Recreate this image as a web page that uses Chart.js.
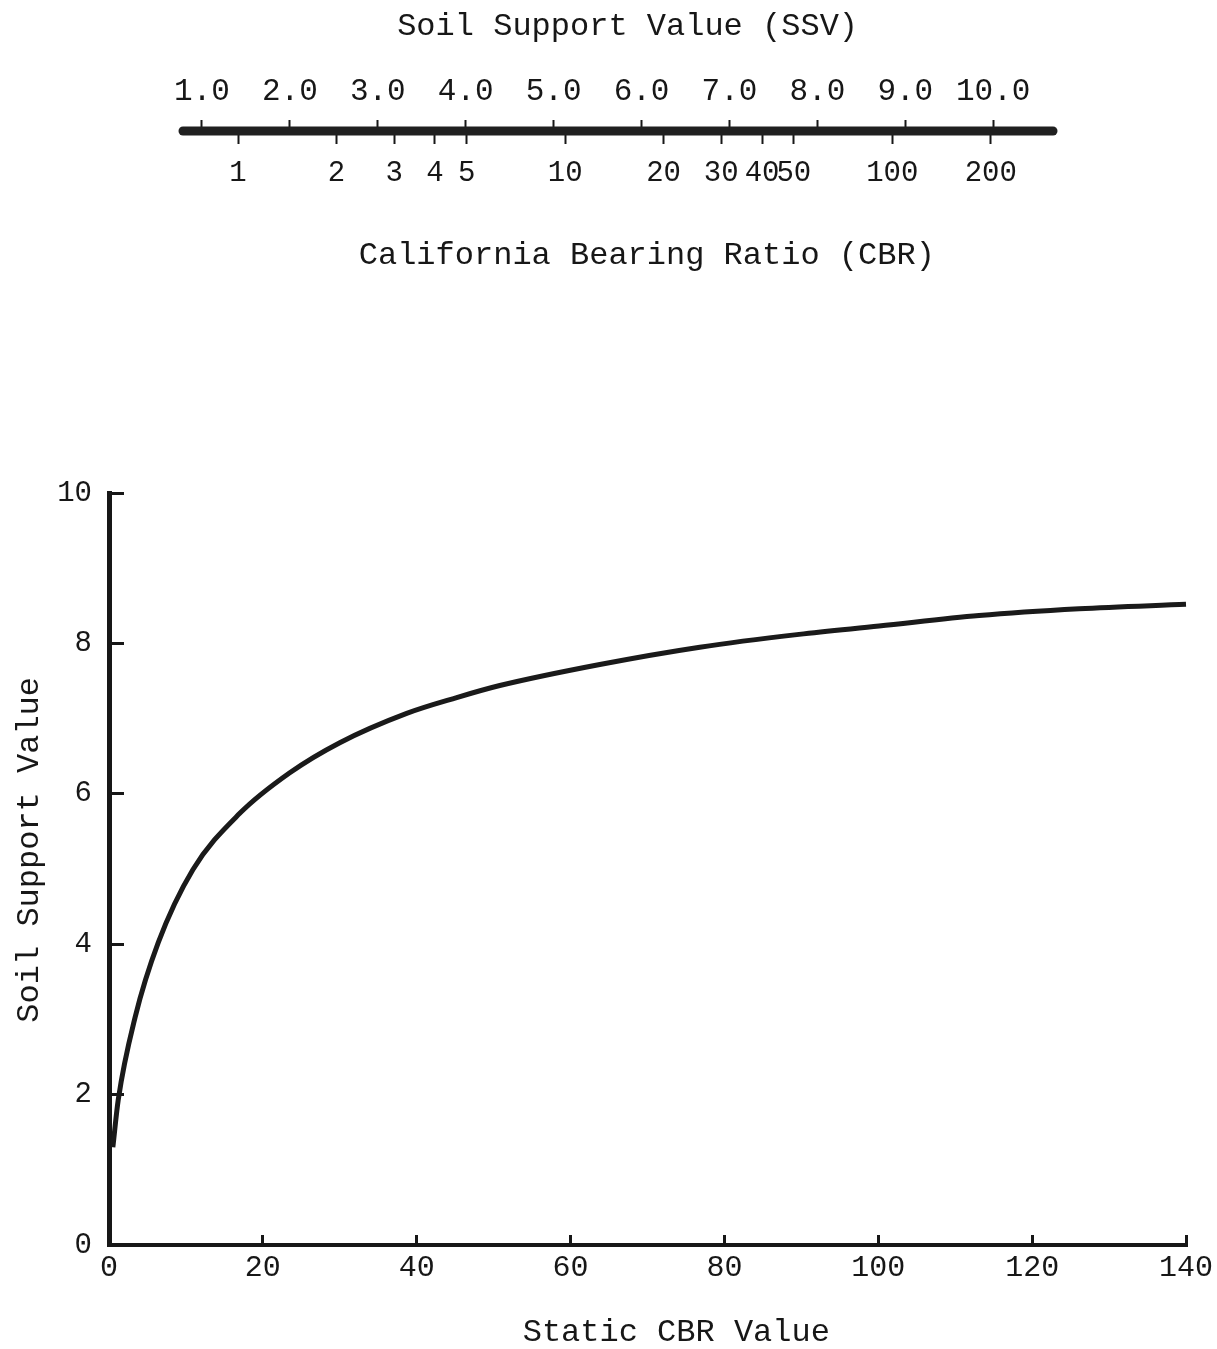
<!DOCTYPE html>
<html>
<head>
<meta charset="utf-8">
<script src="https://cdn.jsdelivr.net/npm/chart.js@4.4.0/dist/chart.umd.min.js"></script>
<style>
  html, body { margin: 0; padding: 0; background: #fff; }
  body { width: 1217px; height: 1349px; position: relative; overflow: hidden; }
  canvas { position: absolute; left: 0; }
  #scaleBar { top: 0; }
  #ssvChart { top: 440px; }
</style>
</head>
<body>
<canvas id="scaleBar" width="1217" height="272"></canvas>
<canvas id="ssvChart" width="1217" height="909"></canvas>
<script>
// nomograph bar: SSV on top (linear), CBR underneath (log)
const ssvScaleTicks = [1, 2, 3, 4, 5, 6, 7, 8, 9, 10];
const cbrScaleTicks = [1, 2, 3, 4, 5, 10, 20, 30, 40, 50, 100, 200];
const ssvScaleRange = [0.784, 10.68];
const cbrScaleRange = [0.679, 310];

// static CBR vs soil support value
const staticCbr   = [0.5, 1.2, 3.4, 6.4, 10.9, 17.0, 23.5, 30.0, 38.7, 45.2, 50.8, 63.8, 76.8, 89.7, 100.1, 113.1, 126.1, 140];
const soilSupport = [1.3, 1.93, 3.03, 4.02, 4.99, 5.74, 6.28, 6.68, 7.07, 7.28, 7.44, 7.72, 7.95, 8.12, 8.23, 8.37, 8.46, 8.52];
const cbrAxisTicks = [0, 20, 40, 60, 80, 100, 120, 140];
const ssvAxisTicks = [0, 2, 4, 6, 8, 10];

const INK = '#171717';
const FONT = '"Liberation Mono", "DejaVu Sans Mono", monospace';
Chart.defaults.font.family = FONT;
Chart.defaults.color = INK;

function fixedTicks(values) {
  return (scale) => { scale.ticks = values.map(v => ({ value: v })); };
}

// ---- top scale bar ----
new Chart(document.getElementById('scaleBar').getContext('2d'), {
  type: 'line',
  data: {
    datasets: [{
      data: [{ x: ssvScaleRange[0], y: 0 }, { x: ssvScaleRange[1], y: 0 }],
      xAxisID: 'ssv', yAxisID: 'y',
      borderColor: '#202020', borderWidth: 9, borderCapStyle: 'round',
      pointRadius: 0, clip: false
    }]
  },
  options: {
    responsive: false, animation: false, devicePixelRatio: 1,
    layout: { padding: { left: 183, right: 164, top: 0, bottom: 0 } },
    plugins: { legend: { display: false }, tooltip: { enabled: false } },
    scales: {
      ssv: {
        type: 'linear', axis: 'x', position: 'top',
        min: ssvScaleRange[0], max: ssvScaleRange[1],
        afterBuildTicks: fixedTicks(ssvScaleTicks),
        afterFit: (s) => { s.height = 127; },
        border: { display: false },
        grid: { drawOnChartArea: false, tickLength: 7, tickWidth: 2, tickColor: INK },
        ticks: { autoSkip: false, maxRotation: 0, padding: 10, font: { size: 31 },
                 callback: (v) => Number(v).toFixed(1) },
        title: { display: true, text: ' Soil Support Value (SSV)', font: { size: 32, lineHeight: 1 },
                 padding: { top: 11, bottom: 0 } }
      },
      cbr: {
        type: 'logarithmic', axis: 'x', position: 'bottom',
        min: cbrScaleRange[0], max: cbrScaleRange[1],
        afterBuildTicks: fixedTicks(cbrScaleTicks),
        afterFit: (s) => { s.height = 137; },
        border: { display: false },
        grid: { drawOnChartArea: false, tickLength: 9, tickWidth: 2, tickColor: INK },
        ticks: { autoSkip: false, maxRotation: 0, padding: 12, font: { size: 29 },
                 callback: (v) => String(v) },
        title: { display: true, text: '   California Bearing Ratio (CBR)', font: { size: 32, lineHeight: 1 },
                 padding: { top: 0, bottom: 0 } }
      },
      y: { display: false, min: -1, max: 1 }
    }
  }
});

// ---- main curve ----
new Chart(document.getElementById('ssvChart').getContext('2d'), {
  type: 'line',
  data: {
    datasets: [{
      data: staticCbr.map((x, i) => ({ x, y: soilSupport[i] })),
      borderColor: '#1a1a1a', borderWidth: 5,
      pointRadius: 0, tension: 0.4, cubicInterpolationMode: 'monotone', clip: false
    }]
  },
  options: {
    responsive: false, animation: false, devicePixelRatio: 1,
    layout: { padding: { left: 0, right: 31, top: 53, bottom: 0 } },
    plugins: { legend: { display: false }, tooltip: { enabled: false } },
    scales: {
      x: {
        type: 'linear', min: 0, max: 140,
        afterBuildTicks: fixedTicks(cbrAxisTicks),
        afterFit: (s) => { s.height = 104; },
        border: { display: true, color: INK, width: 4 },
        grid: { drawOnChartArea: false, tickLength: -10, tickWidth: 3, tickColor: INK },
        ticks: { autoSkip: false, maxRotation: 0, padding: 3, font: { size: 30, lineHeight: 2 } },
        title: { display: true, text: '   Static CBR Value', font: { size: 32, lineHeight: 1 },
                 padding: { top: 0, bottom: 0 } }
      },
      y: {
        type: 'linear', min: 0, max: 10,
        afterBuildTicks: fixedTicks(ssvAxisTicks),
        afterFit: (s) => { s.width = 109; },
        border: { display: true, color: INK, width: 5 },
        grid: { drawOnChartArea: false, tickLength: -15, tickWidth: 3, tickColor: INK },
        ticks: { padding: 32, font: { size: 29 } },
        title: { display: true, text: '  Soil Support Value', font: { size: 32, lineHeight: 1 },
                 padding: { top: 14, bottom: 0 } }
      }
    }
  }
});
</script>
</body>
</html>
